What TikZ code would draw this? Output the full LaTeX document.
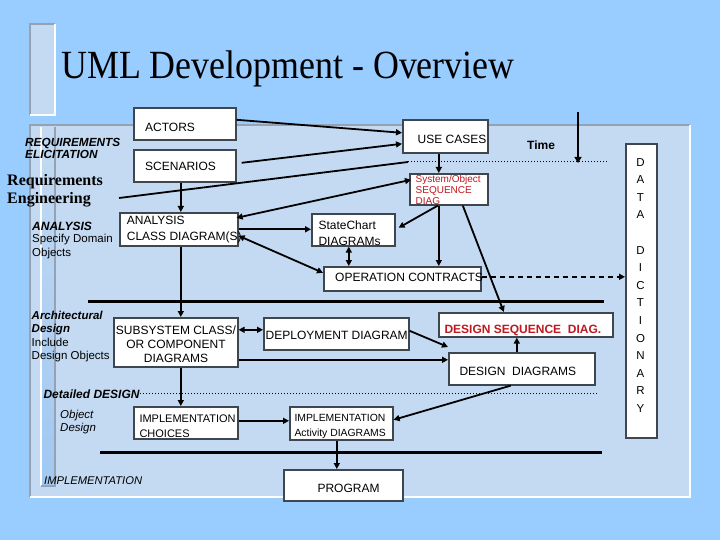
\documentclass[tikz,border=0pt]{standalone}
\usepackage{fontspec}
\setmainfont{Liberation Serif}
\setsansfont{Liberation Sans}
\usetikzlibrary{arrows.meta,calc}
\definecolor{bg}{RGB}{153,204,255}
\definecolor{panel}{RGB}{195,218,242}
\definecolor{stripdark}{RGB}{160,200,242}
\definecolor{edge}{RGB}{150,162,178}
\definecolor{boxline}{RGB}{62,70,80}
\definecolor{redtxt}{RGB}{192,24,32}
\begin{document}
\begin{tikzpicture}[x=1pt,y=-1pt,
  box/.style={draw=boxline, line width=1.6pt, fill=white, inner sep=0pt, anchor=north west},
  sf/.style={font=\sffamily\fontsize{12}{14}\selectfont, inner sep=0pt, anchor=base west},
  ml/.style={inner sep=0pt, anchor=north west, align=left},
  conn/.style={line width=1.8pt, draw=black},
  arr/.style={conn, -{Triangle[length=6pt,width=6pt]}},
  darr/.style={conn, {Triangle[length=6pt,width=6pt]}-{Triangle[length=6pt,width=6pt]}},
  thick line/.style={line width=3pt, draw=black},
  dotline/.style={line width=1pt, dotted, draw=black},
]
\useasboundingbox (0,0) rectangle (720,540);
% background
\fill[bg] (0,0) rectangle (720,540);
% title decoration
\fill[panel] (30,24) rectangle (55,115);
\draw[edge, line width=1.5pt] (30,115) -- (30,24) -- (55,24);
\draw[white, line width=1.5pt] (55,24) -- (55,115) -- (30,115);
% panel
\fill[panel] (30,125) rectangle (690,497);
\draw[edge, line width=2pt] (30,497) -- (30,125) -- (690,125);
\draw[white, line width=2pt] (690,125) -- (690,497) -- (30,497);
% inner strip
\shade[top color=panel, bottom color=stripdark] (41,127) rectangle (55,486);
\draw[white, line width=1.2pt] (41,127) -- (41,486);
\draw[edge, line width=1.2pt] (55,127) -- (55,486) -- (41,486);

% title
\node[inner sep=0pt, anchor=base west, font=\fontsize{40}{44}\selectfont] (title) at (61,79) {\scalebox{0.897}[1]{UML Development - Overview}};

% boxes
\node[box, minimum width=102pt, minimum height=32pt] (actors) at (133,107) {};
\node[box, minimum width=102pt, minimum height=32pt] (scen) at (133,149) {};
\node[box, minimum width=85pt, minimum height=33pt] (usecases) at (402,119) {};
\node[box, minimum width=78pt, minimum height=31pt] (sysobj) at (409,173) {};
\node[box, minimum width=118pt, minimum height=33pt] (analysis) at (119,212) {};
\node[box, minimum width=83pt, minimum height=32pt] (statechart) at (311,213) {};
\node[box, minimum width=157pt, minimum height=24pt] (opc) at (323,266) {};
\node[box, minimum width=31pt, minimum height=294pt] (datadict) at (625,143) {};
\node[box, minimum width=124pt, minimum height=49pt] (subsys) at (113,317) {};
\node[box, minimum width=145pt, minimum height=32pt] (deploy) at (263,317) {};
\node[box, minimum width=174pt, minimum height=24pt] (dsd) at (438,312) {};
\node[box, minimum width=146pt, minimum height=32pt] (dd) at (448,352) {};
\node[box, minimum width=104pt, minimum height=32pt] (implch) at (133,406) {};
\node[box, minimum width=103pt, minimum height=33pt] (implact) at (289,406) {};
\node[box, minimum width=119pt, minimum height=31pt] (program) at (283,469) {};

% box texts
\node[sf] (tact) at (145,131.7) {ACTORS};
\node[sf] (tscen) at (145,171) {SCENARIOS};
\node[sf] (tuse) at (417.5,144) {USE CASES};
\node[sf, font=\sffamily\bfseries\fontsize{12}{14}\selectfont] (ttime) at (527,150) {Time};
\node[ml, text=redtxt, font=\sffamily\fontsize{10}{11.2}\selectfont] (tsys) at (415.5,174.6) {System/Object\\SEQUENCE\\DIAG};
\node[ml, font=\sffamily\fontsize{12}{16.4}\selectfont] (tana) at (126.7,215.6) {ANALYSIS\\CLASS DIAGRAM(S)};
\node[ml, font=\sffamily\fontsize{12}{15.7}\selectfont] (tsc) at (318.3,220.7) {StateChart\\DIAGRAMs};
\node[sf] (toc) at (335,281.7) {OPERATION CONTRACTS};
\node[inner sep=0pt, anchor=north, align=center, font=\sffamily\fontsize{11.5}{17.6}\selectfont] (tdict) at (640.5,158)
  {D\\A\\T\\A\\\mbox{}\\D\\I\\C\\T\\I\\O\\N\\A\\R\\Y};
\node[inner sep=0pt, anchor=north, align=center, font=\sffamily\fontsize{12}{14.2}\selectfont] (tsub) at (176,325.2)
  {SUBSYSTEM CLASS/\\OR COMPONENT\\DIAGRAMS};
\node[sf] (tdep) at (265.5,339) {DEPLOYMENT DIAGRAM};
\node[sf, text=redtxt, font=\sffamily\bfseries\fontsize{12}{14}\selectfont] (tdsd) at (444.3,333.3) {DESIGN SEQUENCE \ DIAG.};
\node[sf] (tdd) at (459.3,375) {DESIGN \ DIAGRAMS};
\node[ml, font=\sffamily\fontsize{11}{15.3}\selectfont] (tic) at (139.3,414.8) {IMPLEMENTATION\\CHOICES};
\node[ml, font=\sffamily\fontsize{10.4}{15}\selectfont] (tia) at (294.3,414.2) {IMPLEMENTATION\\Activity DIAGRAMS};
\node[sf] (tprog) at (317.3,492.3) {PROGRAM};

% left labels
\node[ml, font=\sffamily\bfseries\itshape\fontsize{11.8}{12.3}\selectfont] (tre) at (25,137.6) {REQUIREMENTS\\ELICITATION};
\node[ml, font=\bfseries\fontsize{16}{18.3}\selectfont] (treq) at (7,174.2) {Requirements\\Engineering};
\node[sf, font=\sffamily\bfseries\itshape\fontsize{12}{14}\selectfont] (tanl) at (32,230) {ANALYSIS};
\node[ml, font=\sffamily\fontsize{11.5}{14}\selectfont] (tspec) at (32,233.5) {Specify Domain\\Objects};
\node[ml, font=\sffamily\fontsize{11.5}{13.4}\selectfont] (tarch) at (31.5,310.8)
  {\textbf{\textit{Architectural}}\\\textbf{\textit{Design}}\\Include\\Design Objects};
\node[sf, font=\sffamily\bfseries\itshape\fontsize{12}{14}\selectfont] (tdet) at (43.3,398.3) {Detailed DESIGN};
\node[ml, font=\sffamily\itshape\fontsize{11.5}{13.4}\selectfont] (tobj) at (60,410) {Object\\Design};
\node[sf, font=\sffamily\itshape\fontsize{11.2}{14}\selectfont] (timpl) at (44,484) {IMPLEMENTATION};

% separators
\coordinate (sepA) at (119,198);
\coordinate (sepB) at (408,162);
\coordinate (sepC) at (607,162);
\draw[conn] (sepA) -- (sepB);
\draw[dotline] (sepB) -- (sepC);
\coordinate (thA1) at (88,301); \coordinate (thA2) at (604,301);
\draw[thick line] (thA1) -- (thA2);
\coordinate (thB1) at (100,452); \coordinate (thB2) at (602,452);
\draw[thick line] (thB1) -- (thB2);
\coordinate (dotB1) at (140,393); \coordinate (dotB2) at (598,393);
\draw[dotline] (dotB1) -- (dotB2);
% time arrow
\coordinate (time1) at (578,112);
\coordinate (time2) at (578,163);
\draw[line width=2.6pt, -{Triangle[length=6pt,width=7pt]}] (time1) -- (time2);

% connectors
\draw[arr] ([yshift=4pt]actors.east) -- ([yshift=3.5pt]usecases.west);
\draw[arr] ([xshift=5pt,yshift=3pt]scen.east) -- ([yshift=-7.5pt]usecases.west);
\draw[darr] ([xshift=-2pt,yshift=11.5pt]analysis.east) -- ([xshift=2pt,yshift=9.5pt]sysobj.west);
\draw[arr] ([xshift=-4pt]scen.south) -- ([xshift=2pt]analysis.north);
\draw[arr] (analysis.east) -- (analysis.east -| statechart.west);
\draw[darr] ([yshift=-6.5pt]analysis.east) -- ([yshift=6pt]opc.west);
\draw[arr] ([xshift=-6.5pt]usecases.south) -- ([xshift=-10pt]sysobj.north);
\draw[arr] ([xshift=-11pt]sysobj.south) -- ([xshift=3pt,yshift=2pt]statechart.east);
\draw[arr] ([xshift=-10pt]sysobj.south) -- ([xshift=-10pt]sysobj.south |- opc.north);
\draw[arr] ([xshift=14pt]sysobj.south) -- ([xshift=-22pt]dsd.north);
\draw[darr] ([xshift=-4.5pt]statechart.south) -- ([xshift=-4.5pt]statechart.south |- opc.north);
\draw[conn, dashed, line width=1.6pt, dash pattern=on 5pt off 4pt, -{Triangle[length=6pt,width=6pt]}] ([yshift=2pt]opc.east) -- ([yshift=2pt]opc.east -| datadict.west);
\draw[arr] ([xshift=2pt]analysis.south) -- ([xshift=5pt]subsys.north);
\draw[darr] ([yshift=12.5pt]subsys.east) -- ([yshift=4pt]deploy.west);
\draw[arr] ([yshift=-17.5pt]subsys.east) -- ([yshift=-17.5pt]subsys.east -| dd.west);
\draw[arr] ([yshift=3pt]deploy.east) -- ([yshift=5pt]dd.north west);
\draw[arr] ([xshift=-5pt]dd.north) -- ([xshift=-9pt]dsd.south);
\draw[arr] ([xshift=-11pt]dd.south) -- ([yshift=3.5pt]implact.east);
\draw[arr] ([xshift=5pt]subsys.south) -- ([xshift=-5pt]implch.north);
\draw[arr] ([yshift=2pt]implch.east) -- ([yshift=2pt]implch.east -| implact.west);
\draw[arr] ([xshift=-4.5pt]implact.south) -- ([xshift=-6.5pt]program.north);
\end{tikzpicture}
\end{document}
